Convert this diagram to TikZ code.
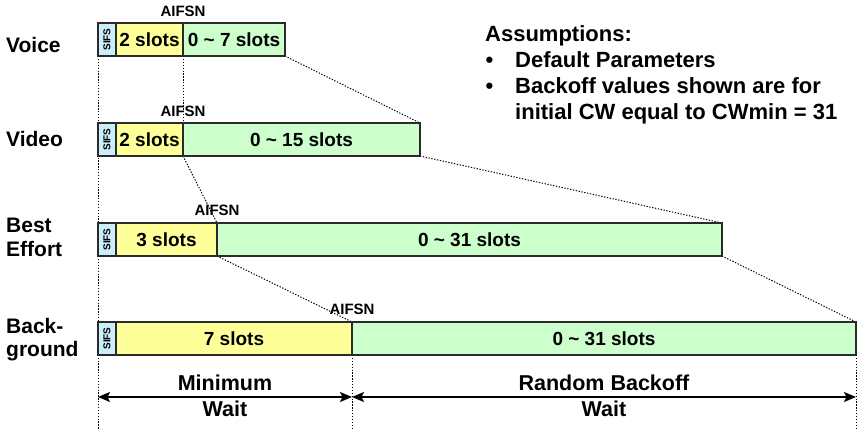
\documentclass[tikz,border=0pt]{standalone}
\usepackage{fontspec}
\usepackage{graphicx}
\setmainfont{Liberation Sans}
\usetikzlibrary{arrows.meta}

\definecolor{sifsblue}{HTML}{CCEEFA}
\definecolor{aifsyellow}{HTML}{FFFF99}
\definecolor{bogreen}{HTML}{CCFFCC}
\definecolor{boxline}{HTML}{2A2A2A}

\newcommand{\tld}{\textasciitilde}

\begin{document}
\begin{tikzpicture}[x=1pt,y=-1pt,
  seg/.style={draw=boxline, line width=1.3pt, inner sep=0pt, outer sep=0pt,
    minimum height=33pt, anchor=north west,
    font=\bfseries\fontsize{19}{19}\selectfont},
  slot/.style={seg, draw=none},
  sifsbox/.style={seg, fill=sifsblue, minimum width=18pt,
    font=\bfseries\fontsize{10}{10}\selectfont},
  waitbox/.style={seg, fill=aifsyellow},
  backoffbox/.style={seg, fill=bogreen},
  dots/.style={line width=1pt, dash pattern=on 1.3pt off 1.6pt},
  rowlbl/.style={anchor=base west, inner sep=0pt,
    font=\bfseries\fontsize{21}{23.5}\selectfont},
  aifs/.style={anchor=base, inner sep=0pt,
    font=\bfseries\fontsize{15}{15}\selectfont},
  spanlbl/.style={anchor=base, inner sep=0pt,
    font=\bfseries\fontsize{21.5}{21.5}\selectfont},
  dim/.style={line width=1.3pt, {Stealth[length=12pt,width=10pt,inset=2.5pt]}-{Stealth[length=12pt,width=10pt,inset=2.5pt]}}
]
\useasboundingbox (0,0) rectangle (857,429);
\coordinate (bottom) at (0,429);
\coordinate (arrowrow) at (0,397);

% slot frames of the four rows (SIFS | AIFSN wait | random backoff)
\node[slot, minimum width=18pt]  (s1) at (98,23) {};
\node[slot, minimum width=67pt]  (y1) at (s1.north east) {};
\node[slot, minimum width=102pt] (g1) at (y1.north east) {};

\node[slot, minimum width=18pt]  (s2) at (98,123) {};
\node[slot, minimum width=67pt]  (y2) at (s2.north east) {};
\node[slot, minimum width=237pt] (g2) at (y2.north east) {};

\node[slot, minimum width=18pt]  (s3) at (98,223) {};
\node[slot, minimum width=101pt] (y3) at (s3.north east) {};
\node[slot, minimum width=505pt] (g3) at (y3.north east) {};

\node[slot, minimum width=18pt]  (s4) at (98,322) {};
\node[slot, minimum width=236pt] (y4) at (s4.north east) {};
\node[slot, minimum width=504pt] (g4) at (y4.north east) {};

% dotted guide lines
\draw[dots] (s1.south west) -- (s1.south west |- bottom);
\draw[dots] (y1.south east) -- (y2.north east);
\draw[dots] (g1.south east) -- (g2.north east);
\draw[dots] (y2.south east) -- (y3.north east);
\draw[dots] (g2.south east) -- (g3.north east);
\draw[dots] (y3.south east) -- (y4.north east);
\draw[dots] (g3.south east) -- (g4.north east);
\draw[dots] (y4.south east) -- (y4.south east |- bottom);
\draw[dots] (g4.south east) -- (g4.south east |- bottom);

% painted boxes
\foreach \r in {1,2,3,4}{
  \node[sifsbox] at (s\r.north west) {\rotatebox{90}{SIFS}};
}
\node[waitbox, minimum width=67pt]  at (y1.north west) {2 slots};
\node[backoffbox, minimum width=102pt] at (g1.north west) {0 \tld{} 7 slots};
\node[waitbox, minimum width=67pt]  at (y2.north west) {2 slots};
\node[backoffbox, minimum width=237pt] at (g2.north west) {0 \tld{} 15 slots};
\node[waitbox, minimum width=101pt] at (y3.north west) {3 slots};
\node[backoffbox, minimum width=505pt] at (g3.north west) {0 \tld{} 31 slots};
\node[waitbox, minimum width=236pt] at (y4.north west) {7 slots};
\node[backoffbox, minimum width=504pt] at (g4.north west) {0 \tld{} 31 slots};

% AIFSN markers
\node[aifs] (a1) at (183,16)  {AIFSN};
\node[aifs] (a2) at (183,116) {AIFSN};
\node[aifs] (a3) at (217,215) {AIFSN};
\node[aifs] (a4) at (352,314) {AIFSN};

% access category names
\node[rowlbl] (voice) at (6,52)  {Voice};
\node[rowlbl] (video) at (6,146) {Video};
\node[rowlbl, anchor=north west, align=left] (be) at (6,218) {Best\\Effort};
\node[rowlbl, anchor=north west, align=left] (bg) at (6,318) {Back-\\ground};

% wait spans
\draw[dim] (s4.south west |- arrowrow) -- (y4.south east |- arrowrow);
\draw[dim] (y4.south east |- arrowrow) -- (g4.south east |- arrowrow);
\node[spanlbl] (minw1) at (225,390) {Minimum};
\node[spanlbl] (minw2) at (225,416) {Wait};
\node[spanlbl] (rbw1)  at (604,390) {Random Backoff};
\node[spanlbl] (rbw2)  at (604,416) {Wait};

% assumptions
\node[anchor=base west, inner sep=0pt, font=\bfseries\fontsize{22}{26}\selectfont] (assume) at (485,41)
  {\begin{tabular}[t]{@{}l@{}l@{}}
    \multicolumn{2}{@{}l@{}}{Assumptions:}\\
    \makebox[30pt][l]{\hspace{0.5pt}\textbullet} & Default Parameters\\
    \makebox[30pt][l]{\hspace{0.5pt}\textbullet} & Backoff values shown are for\\
    & initial CW equal to CWmin = 31
  \end{tabular}};
\end{tikzpicture}
\end{document}
